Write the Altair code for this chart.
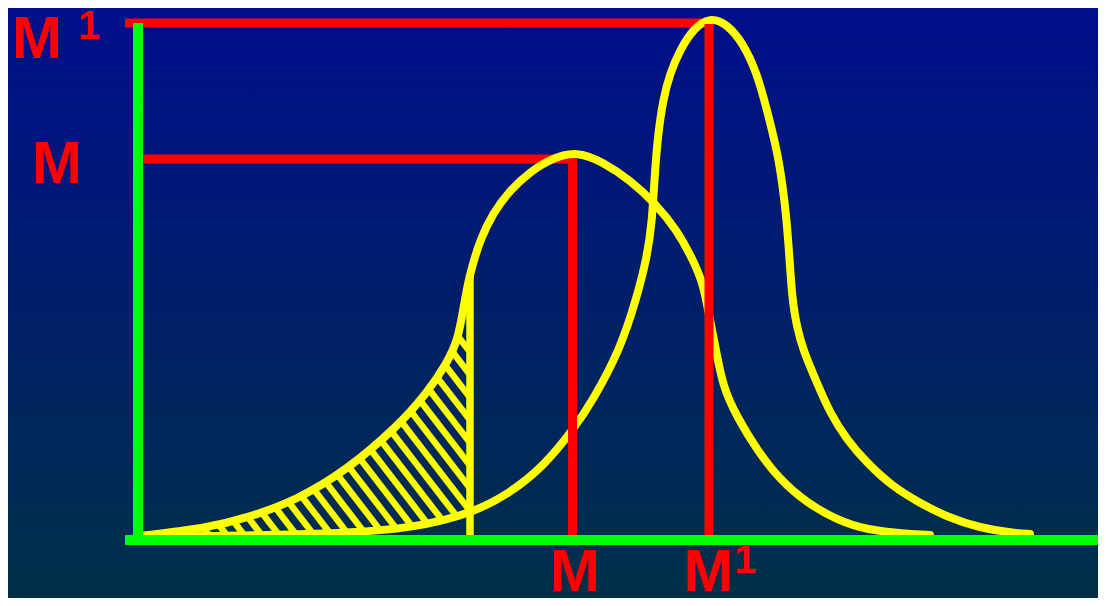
import numpy as np
import pandas as pd
import altair as alt

W, H = 1090, 590
# data units: x = distance right of the vertical axis, y = height above the baseline
X_DOMAIN = [-130, 960]
Y_DOMAIN = [-58, 532]

# Curve "M" (broad peak)
CURVE_M_X = [2, 69, 109, 159, 209, 259, 289, 309, 320, 326, 330, 334, 342, 355, 372, 392,
             412, 439, 465, 492, 517, 539, 555, 565, 571, 578, 585, 599, 619, 642, 669, 699,
             729, 769, 792]
CURVE_M_Y = [4, 12, 22, 40, 70, 113, 147, 177, 200, 235, 257, 273, 300, 327, 350, 368,
             381, 389, 378, 360, 337, 310, 280, 257, 225, 190, 153, 123, 90, 60, 37, 20,
             10, 6, 5]

# Curve "M1" (tall narrow peak)
CURVE_M1_X = [2, 75, 142, 209, 275, 335, 372, 405, 435, 455, 482, 499, 509, 514, 517, 520,
              525, 532, 542, 555, 572, 589, 605, 619, 629, 639, 645, 650, 654, 659, 665, 679,
              692, 709, 729, 755, 782, 809, 842, 875, 892]
CURVE_M1_Y = [3, 4, 5, 7, 12, 27, 47, 73, 110, 140, 190, 243, 283, 317, 370, 405,
              440, 467, 490, 511, 523, 516, 497, 467, 430, 390, 353, 307, 240, 213, 190, 157,
              127, 100, 77, 53, 37, 23, 12, 7, 6]

# Reference levels and positions
LEVEL_M = 381
LEVEL_M1 = 517
POS_M = 434.5
POS_M1 = 571
HATCH_EDGE = 332

# Hatching parameters (stripe offsets measured along the hatch edge)
HATCH_FIRST = 188
HATCH_STEP = 22.7
HATCH_SLOPE = -1.3
HATCH_COUNT = 24

# Labels
BIG_LABELS = ["M", "M", "M", "M"]
BIG_X = [-101, -81, 437, 570.5]
BIG_Y = [482, 357, -51, -51]
SUP_LABELS = ["1", "1"]
SUP_X = [-48.8, 607.2]
SUP_Y = [501, -33]

xs = alt.Scale(domain=X_DOMAIN, nice=False, zero=False)
ys = alt.Scale(domain=Y_DOMAIN, nice=False, zero=False)


def X(f):
    return alt.X(f, type="quantitative", scale=xs, axis=None)


def Y(f):
    return alt.Y(f, type="quantitative", scale=ys, axis=None)


# background gradient
bg = alt.Chart(pd.DataFrame({"a": [0]})).mark_rect(
    fill=alt.LinearGradient(
        gradient="linear",
        stops=[alt.GradientStop(color="#000e8c", offset=0),
               alt.GradientStop(color="#001f6a", offset=0.5),
               alt.GradientStop(color="#003048", offset=1)],
        x1=0, x2=0, y1=0, y2=1),
).encode(x=alt.value(0), x2=alt.value(W), y=alt.value(0), y2=alt.value(H))

# red horizontal guides
red_h = pd.DataFrame({
    "x": [-13, 5], "x2": [POS_M1, POS_M + 3],
    "y": [LEVEL_M1, LEVEL_M], "y2": [LEVEL_M1, LEVEL_M],
})
red_h_layer = alt.Chart(red_h).mark_rule(color="#ff0000", strokeWidth=9, strokeCap="butt").encode(
    x=X("x"), x2="x2:Q", y=Y("y"), y2="y2:Q")

# red vertical guides
red_v = pd.DataFrame({
    "x": [POS_M, POS_M1], "x2": [POS_M, POS_M1],
    "y": [LEVEL_M, LEVEL_M1 - 1], "y2": [0, 0],
})
red_v_layer = alt.Chart(red_v).mark_rule(color="#ff0000", strokeWidth=9, strokeCap="butt").encode(
    x=X("x"), x2="x2:Q", y=Y("y"), y2="y2:Q")

# hatching between curves, computed from the curve arrays
gx = np.linspace(CURVE_M_X[0], HATCH_EDGE, 4000)
upper = np.interp(gx, CURVE_M_X, CURVE_M_Y)
lower = np.maximum(np.interp(gx, CURVE_M1_X, CURVE_M1_Y), 0.0)
rows = []
for k in range(HATCH_COUNT):
    yr = HATCH_FIRST - k * HATCH_STEP
    L = yr + HATCH_SLOPE * (gx - HATCH_EDGE)
    inside = np.where((L <= upper) & (L >= lower))[0]
    if len(inside) < 2:
        continue
    i0, i1 = inside[0], inside[-1]
    rows.append({"x": gx[i0], "y": L[i0], "x2": gx[i1], "y2": L[i1]})
hatch = pd.DataFrame(rows)
hatch_layer = alt.Chart(hatch).mark_rule(color="#ffff00", strokeWidth=6.5, strokeCap="butt").encode(
    x=X("x"), x2="x2:Q", y=Y("y"), y2="y2:Q")

edge_top = float(np.interp(HATCH_EDGE, CURVE_M_X, CURVE_M_Y))
edge = pd.DataFrame({"x": [HATCH_EDGE], "x2": [HATCH_EDGE], "y": [edge_top], "y2": [3]})
edge_layer = alt.Chart(edge).mark_rule(color="#ffff00", strokeWidth=7.5, strokeCap="butt").encode(
    x=X("x"), x2="x2:Q", y=Y("y"), y2="y2:Q")

# curves
curves = pd.concat([
    pd.DataFrame({"x": CURVE_M_X, "y": CURVE_M_Y, "curve": "M", "i": range(len(CURVE_M_X))}),
    pd.DataFrame({"x": CURVE_M1_X, "y": CURVE_M1_Y, "curve": "M1", "i": range(len(CURVE_M1_X))}),
])
curve_layer = alt.Chart(curves).mark_line(
    color="#ffff00", strokeWidth=8, interpolate="basis", strokeCap="round", strokeJoin="round"
).encode(x=X("x"), y=Y("y"), detail="curve:N", order="i:Q")

# green axes
green = pd.DataFrame({
    "x": [0, -13], "x2": [0, 970],
    "y": [517, 0], "y2": [0, 0],
})
green_layer = alt.Chart(green).mark_rule(color="#00ff00", strokeWidth=10, strokeCap="butt").encode(
    x=X("x"), x2="x2:Q", y=Y("y"), y2="y2:Q")

# labels
big = pd.DataFrame({"x": BIG_X, "y": BIG_Y, "t": BIG_LABELS})
big_layer = alt.Chart(big).mark_text(
    font="Liberation Sans", fontWeight="bold", fontSize=60, color="#ff0000",
    align="center", baseline="alphabetic"
).encode(x=X("x"), y=Y("y"), text="t:N")

sup = pd.DataFrame({"x": SUP_X, "y": SUP_Y, "t": SUP_LABELS})
sup_layer = alt.Chart(sup).mark_text(
    font="Liberation Sans", fontWeight="bold", fontSize=40, color="#ff0000",
    align="center", baseline="alphabetic"
).encode(x=X("x"), y=Y("y"), text="t:N")

chart = alt.layer(
    bg, red_h_layer, hatch_layer, edge_layer, curve_layer, red_v_layer, green_layer,
    big_layer, sup_layer
).properties(
    width=W, height=H, padding=0,
    autosize=alt.AutoSizeParams(type="none"),
    background="#001f6a",
).configure_view(stroke=None)

chart.save("out.html", embed_options={"renderer": "svg", "actions": False})
